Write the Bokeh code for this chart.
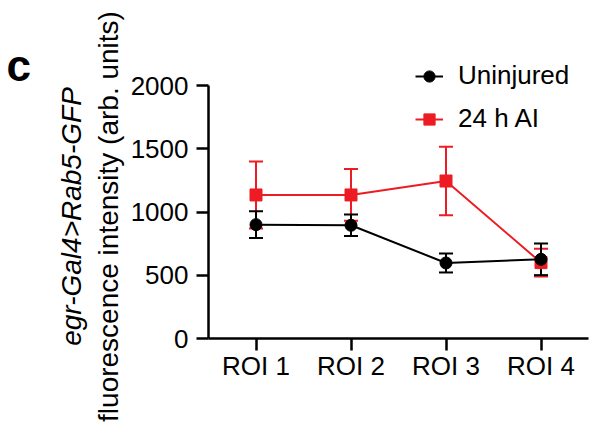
import math
from bokeh.plotting import figure
from bokeh.models import (ColumnDataSource, Range1d, Whisker, TeeHead,
                          Legend, LegendItem, Label, FixedTicker)
from bokeh.embed import file_html
from bokeh.resources import INLINE

categories = ["ROI 1", "ROI 2", "ROI 3", "ROI 4"]
uninjured_mean = [900, 895, 597, 626]
uninjured_err = [105, 85, 75, 125]
injured_mean = [1135, 1135, 1245, 600]
injured_err = [265, 205, 270, 110]
yticks = [0, 500, 1000, 1500, 2000]
series_names = ["Uninjured", "24 h AI"]

RED = "#ED1C24"
FONT = "Liberation Sans"

xpos = list(range(1, len(categories) + 1))

def src(mean, err):
    return ColumnDataSource(dict(
        x=xpos, y=mean,
        upper=[m + e for m, e in zip(mean, err)],
        lower=[m - e for m, e in zip(mean, err)],
    ))

s_un = src(uninjured_mean, uninjured_err)
s_in = src(injured_mean, injured_err)

# layout geometry (pixels)
FRAME_W, FRAME_H = 590, 434
AXIS_X0 = 208          # pixel column of the y axis
AXIS_Y0 = 338          # pixel row of the x axis (value 0)
UNIT_PX = 95           # pixels per category
Y_AXIS_PX = 253        # pixels from 0 to 2000
x_start = 0.5 - AXIS_X0 / UNIT_PX
x_end = x_start + FRAME_W / UNIT_PX
y_per_px = yticks[-1] / Y_AXIS_PX
y_start = -(FRAME_H - AXIS_Y0) * y_per_px
y_end = AXIS_Y0 * y_per_px

p = figure(x_range=Range1d(x_start, x_end), y_range=Range1d(y_start, y_end),
           frame_width=FRAME_W, frame_height=FRAME_H,
           min_border_left=0, min_border_right=0,
           min_border_top=0, min_border_bottom=0,
           output_backend="svg", toolbar_location=None)
p.outline_line_color = None
p.xgrid.visible = False
p.ygrid.visible = False
p.background_fill_color = "white"
p.border_fill_color = "white"

# red series
w_in = Whisker(source=s_in, base="x", upper="upper", lower="lower",
               line_color=RED, line_width=2,
               upper_head=TeeHead(size=14, line_color=RED, line_width=2),
               lower_head=TeeHead(size=14, line_color=RED, line_width=2))
p.add_layout(w_in)
l_in = p.line("x", "y", source=s_in, line_color=RED, line_width=2)
m_in = p.scatter("x", "y", source=s_in, marker="square", size=12,
                 fill_color=RED, line_color=RED)

# black series
w_un = Whisker(source=s_un, base="x", upper="upper", lower="lower",
               line_color="black", line_width=2,
               upper_head=TeeHead(size=14, line_color="black", line_width=2),
               lower_head=TeeHead(size=14, line_color="black", line_width=2))
p.add_layout(w_un)
l_un = p.line("x", "y", source=s_un, line_color="black", line_width=2)
m_un = p.scatter("x", "y", source=s_un, marker="circle", size=12,
                 fill_color="black", line_color="black")

# axes
xa, ya = p.xaxis[0], p.yaxis[0]
for ax in (xa, ya):
    ax.axis_line_width = 2.5
    ax.axis_line_color = "black"
    ax.major_tick_line_width = 2.5
    ax.major_tick_line_color = "black"
    ax.major_tick_out = 12
    ax.major_tick_in = 0
    ax.minor_tick_out = 0
    ax.minor_tick_in = 0
    ax.major_label_text_font = FONT
    ax.major_label_text_font_size = "26px"
    ax.major_label_text_color = "black"
xa.ticker = FixedTicker(ticks=xpos)
xa.major_label_overrides = {x: c for x, c in zip(xpos, categories)}
xa.bounds = (0.5, len(categories) + 0.5)
xa.fixed_location = 0
xa.major_label_standoff = 0
ya.ticker = FixedTicker(ticks=yticks)
ya.bounds = (yticks[0], yticks[-1])
ya.fixed_location = 0.5
ya.major_label_standoff = 8

# y-axis label (two lines)
p.add_layout(Label(x=108, y=FRAME_H - 216, x_units="screen", y_units="screen",
                   text="fluorescence intensity (arb. units)", angle=math.pi / 2,
                   text_align="center", text_baseline="middle", text_color="black",
                   text_font=FONT, text_font_size="28px"))
p.add_layout(Label(x=71, y=FRAME_H - 216, x_units="screen", y_units="screen",
                   text="egr-Gal4>Rab5-GFP", angle=math.pi / 2,
                   text_align="center", text_baseline="middle", text_color="black",
                   text_font=FONT, text_font_size="28px", text_font_style="italic"))

# panel letter
p.add_layout(Label(x=6, y=FRAME_H - 65, x_units="screen", y_units="screen", text="c",
                   text_font=FONT, text_font_size="44px", text_font_style="bold",
                   text_baseline="middle", text_color="black"))

legend = Legend(items=[LegendItem(label=series_names[0], renderers=[l_un, m_un]),
                       LegendItem(label=series_names[1], renderers=[l_in, m_in])],
                location=(415, FRAME_H - AXIS_Y0 + 204), padding=0, margin=0, spacing=12,
                glyph_width=28, glyph_height=30, label_height=30,
                label_standoff=15, label_text_font=FONT, label_text_color="black",
                label_text_font_size="26px", border_line_color=None,
                background_fill_alpha=0)
p.add_layout(legend, "center")

open("out.html", "w").write(file_html(p, INLINE))
